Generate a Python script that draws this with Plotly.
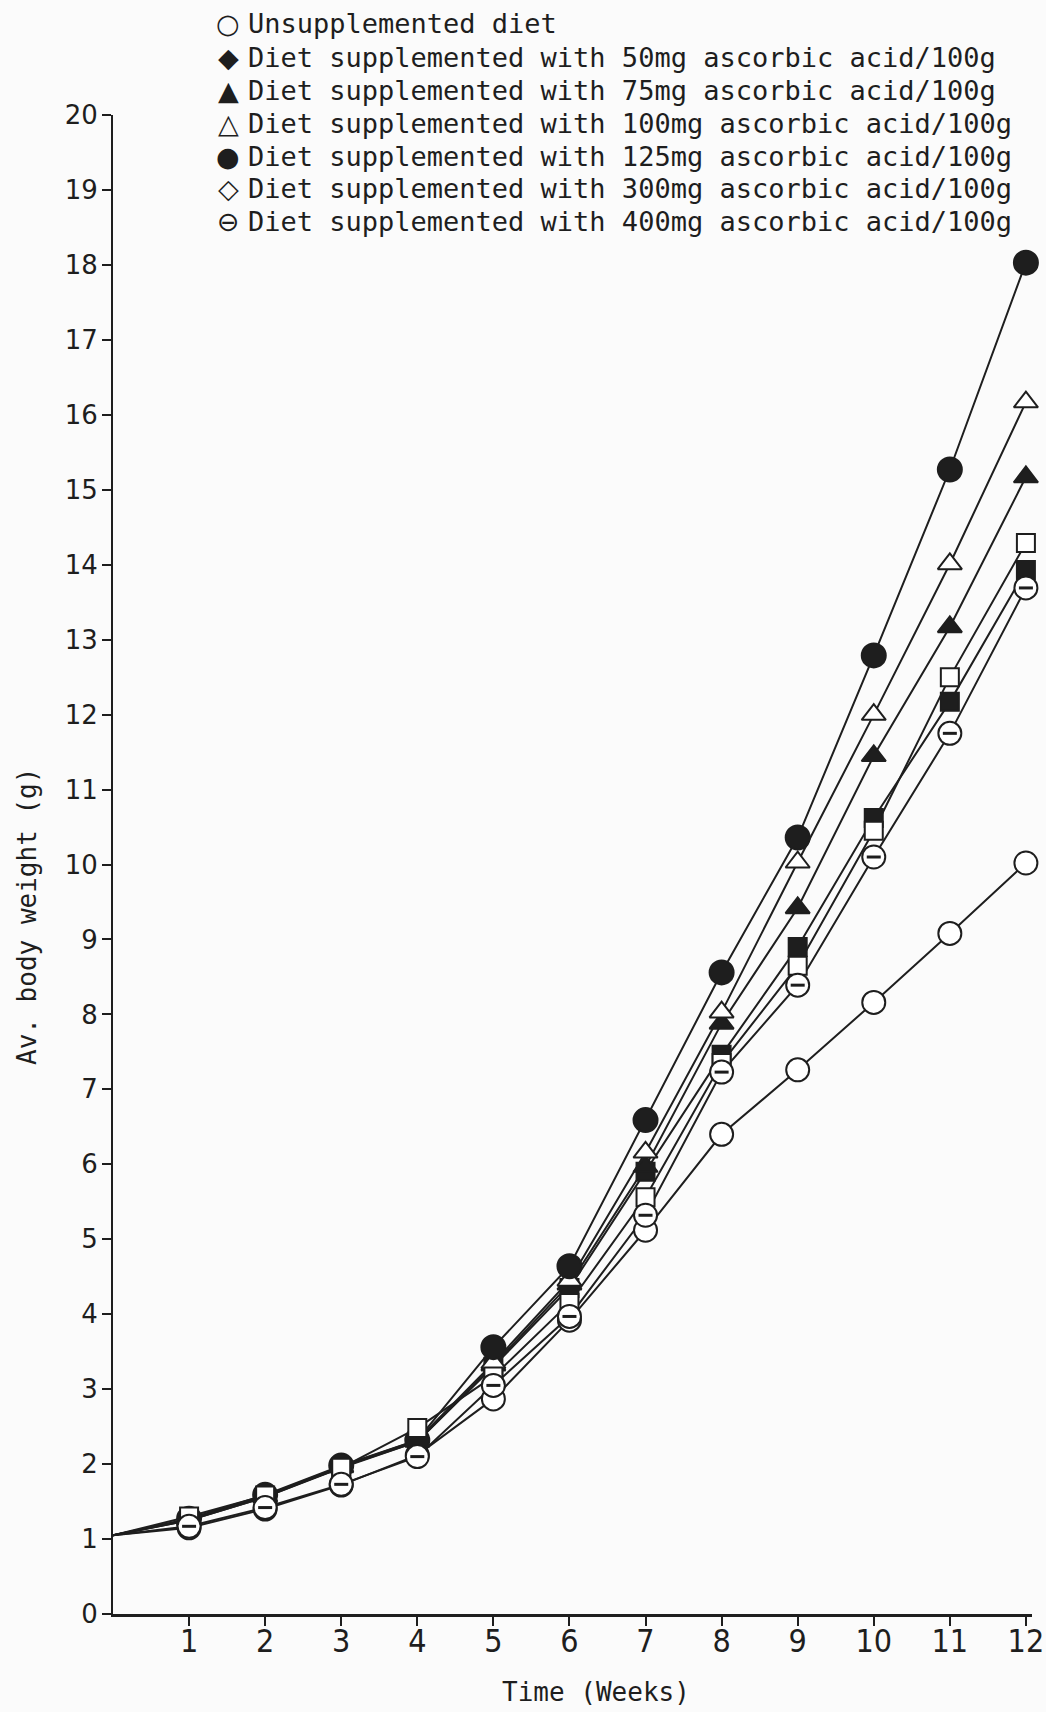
import plotly.graph_objects as go

weeks = [0, 1, 2, 3, 4, 5, 6, 7, 8, 9, 10, 11, 12]
unsupplemented = [1.05, 1.15, 1.40, 1.72, 2.12, 2.87, 3.92, 5.12, 6.40, 7.26, 8.16, 9.08, 10.02]
mg50 = [1.05, 1.25, 1.56, 1.95, 2.30, 3.30, 4.35, 5.90, 7.46, 8.90, 10.62, 12.17, 13.93]
mg75 = [1.05, 1.25, 1.56, 1.96, 2.30, 3.32, 4.40, 5.97, 7.88, 9.42, 11.45, 13.17, 15.17]
mg100 = [1.05, 1.26, 1.58, 1.97, 2.32, 3.35, 4.45, 6.16, 8.03, 10.03, 12.00, 14.01, 16.17]
mg125 = [1.05, 1.27, 1.59, 1.98, 2.32, 3.56, 4.64, 6.59, 8.56, 10.36, 12.79, 15.27, 18.03]
mg300 = [1.05, 1.30, 1.58, 1.95, 2.48, 3.17, 4.15, 5.56, 7.35, 8.65, 10.45, 12.50, 14.29]
mg400 = [1.05, 1.17, 1.42, 1.73, 2.10, 3.05, 3.97, 5.32, 7.23, 8.39, 10.10, 11.75, 13.69]

legend_symbols = ["○", "◆", "▲", "△", "●", "◇", "⊖"]
legend_labels = [
    "Unsupplemented diet",
    "Diet supplemented with 50mg ascorbic acid/100g",
    "Diet supplemented with 75mg ascorbic acid/100g",
    "Diet supplemented with 100mg ascorbic acid/100g",
    "Diet supplemented with 125mg ascorbic acid/100g",
    "Diet supplemented with 300mg ascorbic acid/100g",
    "Diet supplemented with 400mg ascorbic acid/100g",
]
x_ticks = [1, 2, 3, 4, 5, 6, 7, 8, 9, 10, 11, 12]
y_ticks = list(range(0, 21))

W, H = 1046, 1712
L, R, T, B = 113, 14, 115, 98
INK = "#1e1e1e"
MONO = "DejaVu Sans Mono"

series = [
    (unsupplemented, "circle", "white", 23),
    (mg50, "square", INK, 18),
    (mg75, "triangle-up", INK, 21),
    (mg100, "triangle-up", "white", 21),
    (mg125, "circle", INK, 24),
    (mg300, "square", "white", 18),
    (mg400, "circle", "white", 23),
]

fig = go.Figure()
for vals, sym, fill, sz in series:
    fig.add_trace(go.Scatter(
        x=weeks, y=vals, mode="lines",
        line=dict(color=INK, width=2), showlegend=False, hoverinfo="skip",
    ))
for (vals, sym, fill, sz), name in zip(series, legend_labels):
    fig.add_trace(go.Scatter(
        x=weeks[1:], y=vals[1:], mode="markers", name=name,
        marker=dict(symbol=sym, size=sz, color=fill, line=dict(color=INK, width=2)),
        cliponaxis=False, showlegend=False,
    ))
# the bar inside the 400mg circles
fig.add_trace(go.Scatter(
    x=weeks[1:], y=mg400[1:], mode="markers",
    marker=dict(symbol="line-ew", size=10, line=dict(color=INK, width=3)),
    cliponaxis=False, showlegend=False, hoverinfo="skip",
))

plot_h = H - T - B
plot_w = W - L - R


def py(ypix):
    return (H - B - ypix) / plot_h


def px(xpix):
    return (xpix - L) / plot_w


annotations = []
row_y = [24, 57, 90, 123, 156, 189, 222]
for sym, lab, yy in zip(legend_symbols, legend_labels, row_y):
    annotations.append(dict(
        x=px(228), y=py(yy), xref="paper", yref="paper", text=sym,
        showarrow=False, xanchor="center", yanchor="middle",
        font=dict(family="DejaVu Sans", size=27, color=INK),
    ))
    annotations.append(dict(
        x=px(246), y=py(yy), xref="paper", yref="paper", text=lab,
        showarrow=False, xanchor="left", yanchor="middle",
        font=dict(family=MONO, size=27, color=INK),
    ))
annotations.append(dict(
    x=px(596), y=py(1692), xref="paper", yref="paper", text="Time (Weeks)",
    showarrow=False, xanchor="center", yanchor="middle",
    font=dict(family=MONO, size=26, color=INK),
))
annotations.append(dict(
    x=px(27), y=py(917), xref="paper", yref="paper", text="Av. body weight (g)",
    showarrow=False, xanchor="center", yanchor="middle", textangle=-90,
    font=dict(family=MONO, size=26, color=INK),
))

fig.update_layout(
    width=W, height=H,
    margin=dict(l=L, r=R, t=T, b=B, autoexpand=False),
    paper_bgcolor="#fbfbfb", plot_bgcolor="#fbfbfb",
    annotations=annotations,
    showlegend=False,
)
fig.update_xaxes(
    range=[0, 12.08], tickvals=x_ticks, ticktext=[str(v) for v in x_ticks],
    showgrid=False, zeroline=False, showline=True, linecolor=INK, linewidth=3,
    ticks="outside", ticklen=9, tickwidth=2, tickcolor=INK, ticklabelstandoff=-12,
    automargin=False,
    tickfont=dict(family="Liberation Sans Narrow, DejaVu Sans Condensed, DejaVu Sans Mono", size=32, color=INK),
)
fig.update_yaxes(
    range=[0, 20], tickvals=y_ticks, ticktext=[str(v) for v in y_ticks],
    showgrid=False, zeroline=False, showline=True, linecolor=INK, linewidth=2,
    ticks="outside", ticklen=9, tickwidth=2, tickcolor=INK, ticklabelstandoff=-1,
    automargin=False,
    tickfont=dict(family="DejaVu Sans", size=26, color=INK),
)

fig.write_html(
    "out.html",
    config={"displayModeBar": False},
    post_script="document.body.style.margin='0';document.body.style.background='#fbfbfb';",
)
